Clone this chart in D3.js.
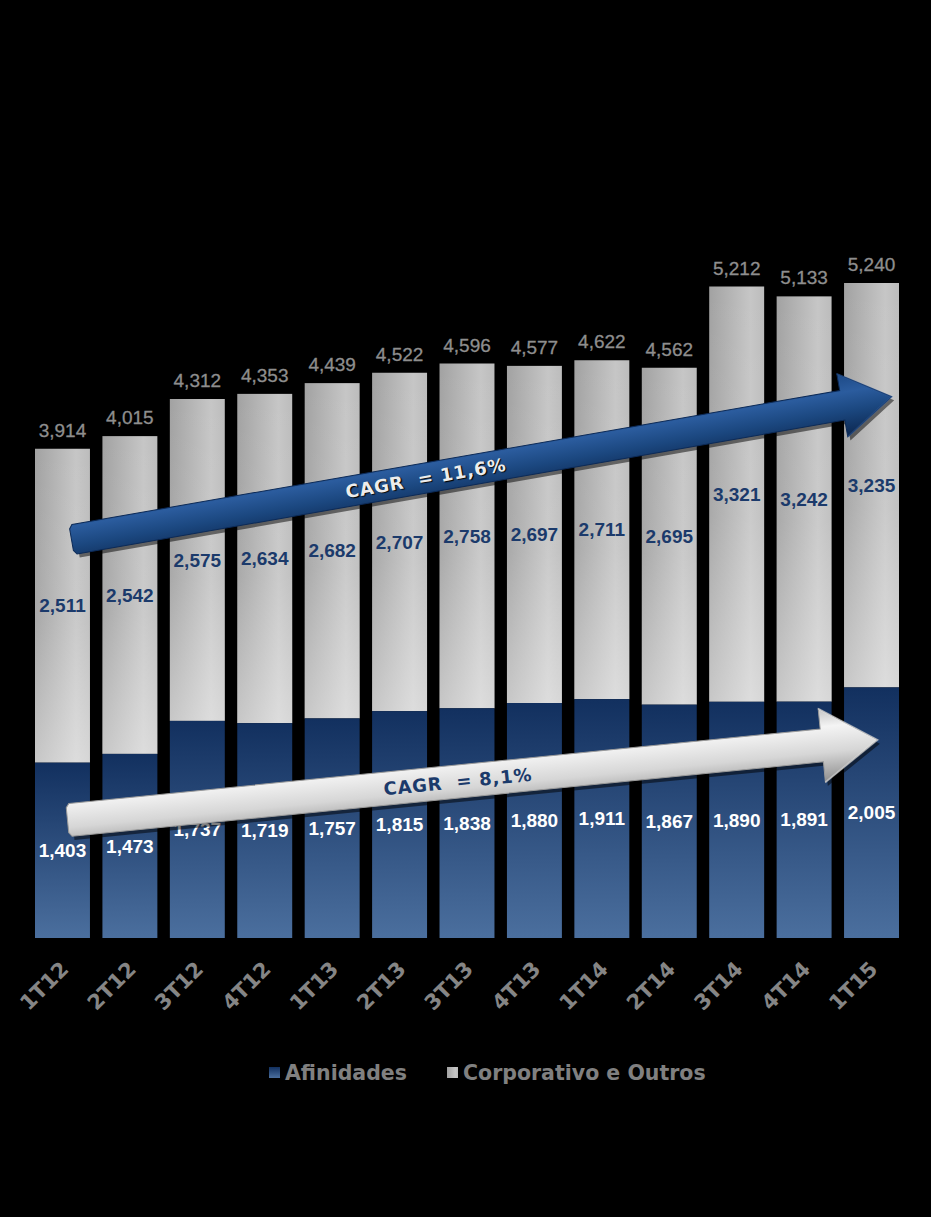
<!DOCTYPE html>
<html>
<head>
<meta charset="utf-8">
<script src="https://cdn.jsdelivr.net/npm/d3@7"></script>
<style>
  html, body { margin: 0; padding: 0; background: #000; }
  svg { display: block; }
</style>
</head>
<body>
<div id="chart"></div>
<script>
const quarters = ['1T12', '2T12', '3T12', '4T12', '1T13', '2T13', '3T13', '4T13', '1T14', '2T14', '3T14', '4T14', '1T15']
const afinidades = [1403, 1473, 1737, 1719, 1757, 1815, 1838, 1880, 1911, 1867, 1890, 1891, 2005]
const corporativo = [2511, 2542, 2575, 2634, 2682, 2707, 2758, 2697, 2711, 2695, 3321, 3242, 3235]
const totals = [3914, 4015, 4312, 4353, 4439, 4522, 4596, 4577, 4622, 4562, 5212, 5133, 5240]
const seriesNames = ['Afinidades', 'Corporativo e Outros']

// CAGR arrows, anchored in data space (category, value)
const arrows = [
  { label: 'CAGR  = 11,6%', from: ['1T12', 3190], to: ['1T15', 4330], dx0: 12, dx1: 20, kind: 'blue', at: 0.43 },
  { label: 'CAGR  = 8,1%', from: ['1T12', 945], to: ['1T15', 1585], dx0: 8, dx1: 6, kind: 'silver', at: 0.48 }
]

const width = 931
const height = 1217

const svg = d3
  .select('#chart')
  .append('svg')
  .attr('width', width)
  .attr('height', height)
  .style('background', '#000')

const x = d3.scaleBand().domain(quarters).range([35, 899]).paddingInner(0.185).paddingOuter(0)
const y = d3.scaleLinear().domain([0, 5240]).range([938, 283])

const defs = svg.append('defs')

const greyGrad = defs.append('linearGradient').attr('id', 'greyGrad').attr('x1', 0).attr('x2', 1).attr('y1', 0).attr('y2', 0)
greyGrad.append('stop').attr('offset', '0%').attr('stop-color', '#a2a2a2')
greyGrad.append('stop').attr('offset', '75%').attr('stop-color', '#c6c6c6')
greyGrad.append('stop').attr('offset', '100%').attr('stop-color', '#bcbcbc')

const greyShade = defs.append('linearGradient').attr('id', 'greyShade').attr('x1', 0).attr('x2', 0).attr('y1', 0).attr('y2', 1)
greyShade.append('stop').attr('offset', '0%').attr('stop-color', '#fff').attr('stop-opacity', 0)
greyShade.append('stop').attr('offset', '55%').attr('stop-color', '#fff').attr('stop-opacity', 0.08)
greyShade.append('stop').attr('offset', '100%').attr('stop-color', '#fff').attr('stop-opacity', 0.4)

const blueGrad = defs.append('linearGradient').attr('id', 'blueGrad').attr('x1', 0).attr('x2', 0).attr('y1', 0).attr('y2', 1)
blueGrad.append('stop').attr('offset', '0%').attr('stop-color', '#12305f')
blueGrad.append('stop').attr('offset', '100%').attr('stop-color', '#4b6f9e')

// arrow tube gradients (local coords: vertical = across the shaft)
const blueTube = defs.append('linearGradient').attr('id', 'blueTube').attr('x1', 0).attr('x2', 0).attr('y1', 0).attr('y2', 1)
blueTube.append('stop').attr('offset', '0%').attr('stop-color', '#1d4985')
blueTube.append('stop').attr('offset', '30%').attr('stop-color', '#2b5c9e')
blueTube.append('stop').attr('offset', '60%').attr('stop-color', '#1b477f')
blueTube.append('stop').attr('offset', '100%').attr('stop-color', '#0c2750')

const silverTube = defs.append('linearGradient').attr('id', 'silverTube').attr('x1', 0).attr('x2', 0).attr('y1', 0).attr('y2', 1)
silverTube.append('stop').attr('offset', '0%').attr('stop-color', '#c4c4c4')
silverTube.append('stop').attr('offset', '25%').attr('stop-color', '#f4f4f4')
silverTube.append('stop').attr('offset', '60%').attr('stop-color', '#d6d6d6')
silverTube.append('stop').attr('offset', '100%').attr('stop-color', '#8e8e8e')

// Bars
const bars = svg.append('g')

quarters.forEach((q, i) => {
  const x0 = x(q)
  const bw = x.bandwidth()
  const aTop = y(afinidades[i])
  const tTop = y(totals[i])

  bars.append('rect')
    .attr('x', x0).attr('y', tTop)
    .attr('width', bw).attr('height', aTop - tTop)
    .attr('fill', 'url(#greyGrad)')
  bars.append('rect')
    .attr('x', x0).attr('y', tTop)
    .attr('width', bw).attr('height', aTop - tTop)
    .attr('fill', 'url(#greyShade)')
  bars.append('rect')
    .attr('x', x0).attr('y', aTop)
    .attr('width', bw).attr('height', y(0) - aTop)
    .attr('fill', 'url(#blueGrad)')
})

const fmt = d3.format(',')
const cx = q => x(q) + x.bandwidth() / 2

// Total labels
svg.append('g')
  .selectAll('text')
  .data(quarters)
  .enter()
  .append('text')
  .attr('x', d => cx(d))
  .attr('y', (d, i) => y(totals[i]) - 12)
  .attr('text-anchor', 'middle')
  .style('font-family', '"Liberation Sans", Arial, sans-serif')
  .style('font-size', '19px')
  .attr('fill', '#8e8e8e')
  .attr('stroke', '#8e8e8e')
  .attr('stroke-width', 0.3)
  .text((d, i) => fmt(totals[i]))

// Corporativo labels
svg.append('g')
  .selectAll('text')
  .data(quarters)
  .enter()
  .append('text')
  .attr('x', d => cx(d))
  .attr('y', (d, i) => (y(totals[i]) + y(afinidades[i])) / 2)
  .attr('dy', '0.35em')
  .attr('text-anchor', 'middle')
  .style('font-family', '"Liberation Sans", Arial, sans-serif')
  .style('font-size', '19px')
  .style('font-weight', 'bold')
  .attr('fill', '#1b3a6b')
  .text((d, i) => fmt(corporativo[i]))

// Afinidades labels
svg.append('g')
  .selectAll('text')
  .data(quarters)
  .enter()
  .append('text')
  .attr('x', d => cx(d))
  .attr('y', (d, i) => (y(afinidades[i]) + y(0)) / 2)
  .attr('dy', '0.35em')
  .attr('text-anchor', 'middle')
  .style('font-family', '"Liberation Sans", Arial, sans-serif')
  .style('font-size', '19px')
  .style('font-weight', 'bold')
  .attr('fill', '#ffffff')
  .text((d, i) => fmt(afinidades[i]))

// Arrows
arrows.forEach(a => {
  const p0 = [cx(a.from[0]) + a.dx0, y(a.from[1])]
  const p1 = [cx(a.to[0]) + a.dx1, y(a.to[1])]
  const len = Math.hypot(p1[0] - p0[0], p1[1] - p0[1])
  const ang = Math.atan2(p1[1] - p0[1], p1[0] - p0[0]) * 180 / Math.PI
  const blue = a.kind === 'blue'
  const t = blue ? 15 : 16.5
  const hw = blue ? 32 : 37
  const hl = blue ? 50 : 56
  const shaftEnd = len - hl

  const g = svg.append('g').attr('transform', `translate(${p0[0]},${p0[1]}) rotate(${ang})`)

  // soft shadow
  g.append('path')
    .attr('d', `M2,${-t + 4} L${shaftEnd + 2},${-t + 4} L${shaftEnd + 2},${-hw + 4} L${len + 2},4 L${shaftEnd + 2},${hw + 4} L${shaftEnd + 2},${t + 4} L2,${t + 4} Z`)
    .attr('fill', '#000')
    .attr('opacity', 0.5)

  g.append('path')
    .attr('d', `M0,${-t} L${shaftEnd},${-t} L${shaftEnd},${-hw} L${len},0 L${shaftEnd},${hw} L${shaftEnd},${t} L0,${t} L-3,${t - 4} L-3,${-t + 4} Z`)
    .attr('fill', blue ? 'url(#blueTube)' : 'url(#silverTube)')
    .attr('stroke', blue ? '#0c2a57' : '#9a9a9a')
    .attr('stroke-width', 1)

  // head bevel line
  g.append('path')
    .attr('d', `M${shaftEnd},${-hw} L${len},0 L${shaftEnd},${hw}`)
    .attr('fill', 'none')
    .attr('stroke', blue ? '#3a6aae' : '#ffffff')
    .attr('stroke-opacity', 0.35)
    .attr('stroke-width', 2)

  g.append('text')
    .attr('x', len * a.at)
    .attr('y', 0)
    .attr('dy', '0.36em')
    .attr('text-anchor', 'middle')
    .style('font-family', '"DejaVu Sans", Verdana, sans-serif')
    .style('font-size', '18px')
    .style('font-weight', 'bold')
    .style('letter-spacing', '0.8px')
    .style('white-space', 'pre')
    .attr('fill', blue ? '#ececec' : '#1b3a6b')
    .style('text-shadow', blue ? '1px 1px 1px #000' : 'none')
    .text(a.label)
})

// X axis labels
svg.append('g')
  .selectAll('text')
  .data(quarters)
  .enter()
  .append('text')
  .attr('transform', d => `translate(${cx(d) - 3},${960}) rotate(-45)`)
  .attr('text-anchor', 'end')
  .attr('dy', '0.7em')
  .style('font-family', '"DejaVu Sans", Verdana, sans-serif')
  .style('font-size', '21px')
  .style('font-weight', 'bold')
  .attr('fill', '#858585')
  .text(d => d)

// Legend
const legendX = [269, 447]
const legend = svg.append('g').attr('transform', 'translate(0, 1073)')

legend
  .selectAll('.legend')
  .data(seriesNames)
  .enter()
  .append('g')
  .attr('class', 'legend')
  .attr('transform', (d, i) => `translate(${legendX[i]},0)`)
  .each(function(d, i) {
    const g = d3.select(this)
    g.append('rect')
      .attr('x', 0)
      .attr('y', -6)
      .attr('width', 11)
      .attr('height', 11)
      .attr('fill', i === 0 ? 'url(#blueGrad)' : 'url(#greyGrad)')
    g.append('text')
      .attr('x', 16)
      .attr('y', 0)
      .attr('dy', '0.36em')
      .style('font-family', '"DejaVu Sans", Verdana, sans-serif')
      .style('font-size', '20.5px')
      .style('font-weight', 'bold')
      .attr('fill', '#808080')
      .text(d)
  })
</script>
</body>
</html>
